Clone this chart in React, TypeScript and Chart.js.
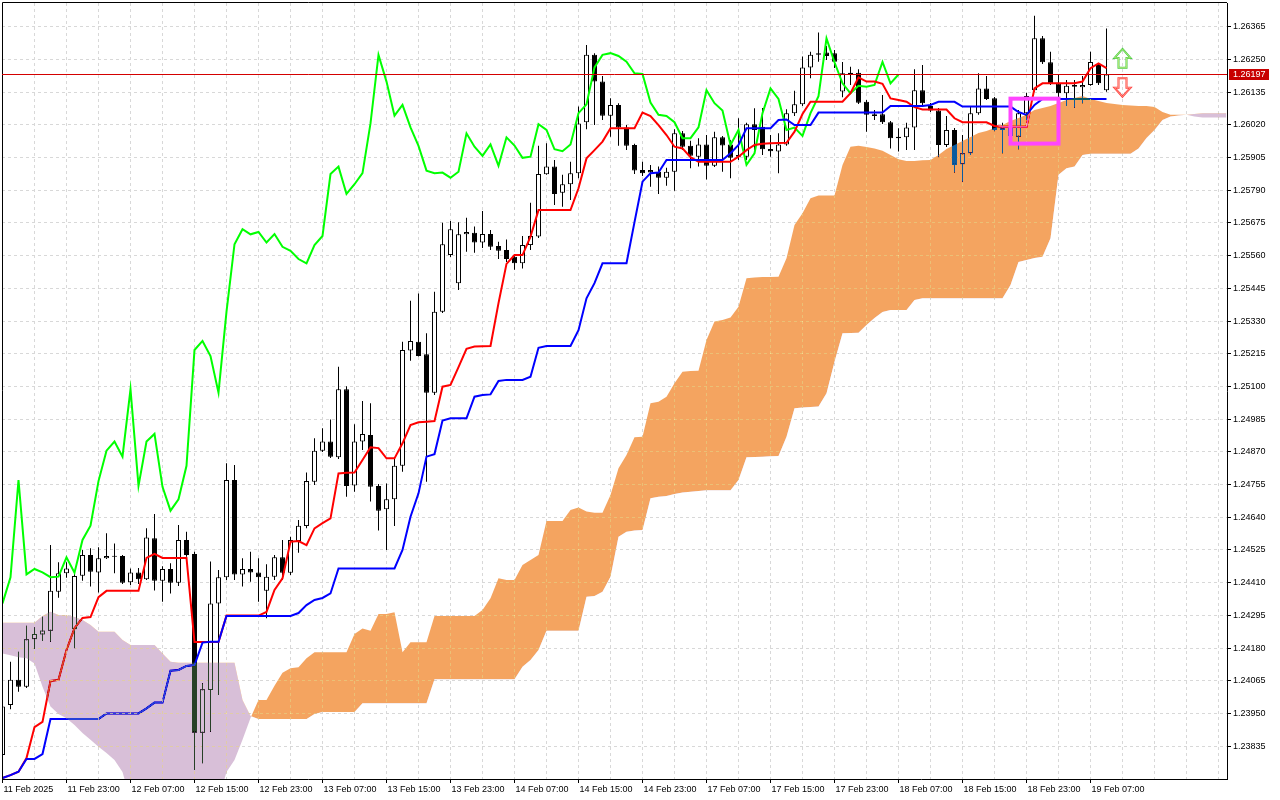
import React, { useEffect, useRef } from "react";
import { Chart, registerables } from "chart.js";

Chart.register(...registerables);

// ---------- data (H1 chart, Ichimoku) ----------
const xLabelBars = [0, 8, 16, 24, 32, 40, 48, 56, 64, 72, 80, 88, 96, 104, 112, 120, 128, 136];
const xLabels = [
  "11 Feb 2025", "11 Feb 23:00", "12 Feb 07:00", "12 Feb 15:00", "12 Feb 23:00", "13 Feb 07:00",
  "13 Feb 15:00", "13 Feb 23:00", "14 Feb 07:00", "14 Feb 15:00", "14 Feb 23:00", "17 Feb 07:00",
  "17 Feb 15:00", "17 Feb 23:00", "18 Feb 07:00", "18 Feb 15:00", "18 Feb 23:00", "19 Feb 07:00",
];
const xGridBars = [0, 4, 8, 12, 16, 20, 24, 28, 32, 36, 40, 44, 48, 52, 56, 60, 64, 68, 72, 76, 80, 84, 88, 92, 96, 100, 104, 108, 112, 116, 120, 124, 128, 132, 136, 140, 144, 148, 152];
const yTicks = [
  1.23835, 1.2395, 1.24065, 1.2418, 1.24295, 1.2441, 1.24525, 1.2464, 1.24755, 1.2487, 1.24985, 1.251,
  1.25215, 1.2533, 1.25445, 1.2556, 1.25675, 1.2579, 1.25905, 1.2602, 1.26135, 1.2625, 1.26365,
];

const openP = [
  1.23804, 1.2398, 1.24068, 1.24044, 1.24211, 1.24228, 1.24241, 1.24378, 1.24443, 1.24246,
  1.24434, 1.24507, 1.24446, 1.24496, 1.24504, 1.24504, 1.24411, 1.24446, 1.24422, 1.24566,
  1.24417, 1.24458, 1.2441, 1.2456, 1.24511, 1.23882, 1.24032, 1.24337, 1.24429, 1.24771,
  1.24439, 1.24458, 1.24446, 1.24381, 1.24431, 1.24499, 1.24445, 1.24556, 1.24609, 1.24765,
  1.24874, 1.24906, 1.24851, 1.2509, 1.24752, 1.24906, 1.24929, 1.2475, 1.24668, 1.24703,
  1.24821, 1.25226, 1.25257, 1.25213, 1.25078, 1.25363, 1.25562, 1.25463, 1.25635, 1.2564,
  1.25606, 1.25636, 1.25594, 1.2558, 1.25556, 1.25533, 1.25597, 1.25627, 1.25846, 1.25873,
  1.25781, 1.25811, 1.2585, 1.26029, 1.26266, 1.26172, 1.26052, 1.2609, 1.26011, 1.25949,
  1.25861, 1.25861, 1.25855, 1.25834, 1.25855, 1.2599, 1.25946, 1.25908, 1.25951, 1.25876,
  1.25976, 1.25951, 1.25914, 1.25908, 1.26022, 1.26013, 1.25935, 1.25926, 1.25951, 1.26061,
  1.26092, 1.26222, 1.26266, 1.26274, 1.26272, 1.26137, 1.26203, 1.26203, 1.26101, 1.26057,
  1.26057, 1.26029, 1.25978, 1.25976, 1.26011, 1.26142, 1.26086, 1.2607, 1.25949, 1.26002,
  1.25881, 1.2592, 1.26061, 1.26148, 1.26113, 1.26002, 1.26009, 1.25978, 1.26061, 1.26142,
  1.26324, 1.2624, 1.26166, 1.26131, 1.2616, 1.26152, 1.2616, 1.2623, 1.26142,
];
const highP = [
  1.23987, 1.24132, 1.24167, 1.24258, 1.24252, 1.2429, 1.24542, 1.24482, 1.24482, 1.2444,
  1.24525, 1.24531, 1.24534, 1.24584, 1.24548, 1.24507, 1.2446, 1.24461, 1.24601, 1.24651,
  1.24468, 1.24478, 1.24613, 1.24589, 1.24519, 1.24056, 1.24484, 1.24454, 1.2483, 1.24824,
  1.24496, 1.24519, 1.24496, 1.24475, 1.24507, 1.2456, 1.24571, 1.2463, 1.24797, 1.24918,
  1.24953, 1.24984, 1.25169, 1.25101, 1.24967, 1.25049, 1.25041, 1.24757, 1.24759, 1.24851,
  1.25257, 1.25401, 1.25427, 1.25287, 1.25433, 1.25676, 1.25682, 1.25677, 1.25693, 1.25662,
  1.25717, 1.2565, 1.25609, 1.25617, 1.25562, 1.25629, 1.25746, 1.25946, 1.25955, 1.25896,
  1.25844, 1.2589, 1.26084, 1.26301, 1.26272, 1.26192, 1.26113, 1.26096, 1.26019, 1.25953,
  1.2589, 1.25879, 1.25873, 1.25869, 1.26004, 1.25998, 1.25964, 1.25973, 1.25984, 1.25996,
  1.25981, 1.25967, 1.26043, 1.26027, 1.26078, 1.26079, 1.25984, 1.2599, 1.26075, 1.2614,
  1.2626, 1.26277, 1.26345, 1.26297, 1.26283, 1.26241, 1.26224, 1.26215, 1.26107, 1.26072,
  1.26125, 1.26033, 1.26008, 1.26027, 1.26215, 1.2623, 1.26097, 1.26079, 1.26051, 1.26009,
  1.25984, 1.26084, 1.26201, 1.26192, 1.26118, 1.26027, 1.26023, 1.26072, 1.26133, 1.26404,
  1.26332, 1.26277, 1.26195, 1.26178, 1.26178, 1.26192, 1.26277, 1.26236, 1.26359,
];
const lowP = [
  1.23797, 1.23965, 1.24026, 1.24039, 1.24177, 1.24205, 1.24202, 1.24357, 1.24427, 1.2418,
  1.24417, 1.24396, 1.24375, 1.24493, 1.24443, 1.24405, 1.24402, 1.24405, 1.24419, 1.24382,
  1.24343, 1.24372, 1.24398, 1.24501, 1.23751, 1.23775, 1.23886, 1.24015, 1.24419, 1.24419,
  1.24396, 1.24413, 1.24343, 1.24285, 1.24419, 1.24419, 1.24437, 1.24515, 1.24601, 1.24753,
  1.24869, 1.24848, 1.24845, 1.24712, 1.2473, 1.24876, 1.24695, 1.24593, 1.24525, 1.24609,
  1.248, 1.2519, 1.25205, 1.24765, 1.2507, 1.25358, 1.25555, 1.25439, 1.25574, 1.2557,
  1.25587, 1.2558, 1.25548, 1.25538, 1.2551, 1.25515, 1.2558, 1.25622, 1.25844, 1.25738,
  1.25732, 1.25756, 1.25832, 1.26004, 1.26019, 1.26037, 1.25978, 1.25946, 1.25931, 1.25847,
  1.2584, 1.25802, 1.25777, 1.25806, 1.25788, 1.25931, 1.25867, 1.25873, 1.25828, 1.25872,
  1.25855, 1.25832, 1.25896, 1.25896, 1.25931, 1.25914, 1.25908, 1.2585, 1.25946, 1.26051,
  1.26086, 1.26184, 1.26242, 1.26248, 1.2622, 1.26117, 1.2616, 1.26093, 1.25996, 1.26037,
  1.26023, 1.25937, 1.25926, 1.25931, 1.25931, 1.2609, 1.26065, 1.25908, 1.25942, 1.25852,
  1.2582, 1.25914, 1.26055, 1.26107, 1.25998, 1.2592, 1.2596, 1.25934, 1.26037, 1.26136,
  1.26234, 1.2616, 1.26114, 1.26086, 1.2608, 1.26096, 1.26157, 1.2616, 1.26136,
];
const closeP = [
  1.23974, 1.24068, 1.24044, 1.24211, 1.24229, 1.24242, 1.24381, 1.24443, 1.2446, 1.24433,
  1.24507, 1.24448, 1.24496, 1.24504, 1.24501, 1.2441, 1.24446, 1.24422, 1.24569, 1.24417,
  1.24458, 1.2441, 1.2456, 1.24507, 1.23882, 1.24035, 1.24337, 1.24429, 1.24771, 1.24439,
  1.24458, 1.24446, 1.24429, 1.24431, 1.24499, 1.24445, 1.2456, 1.2461, 1.24767, 1.24874,
  1.24906, 1.24853, 1.2509, 1.2475, 1.24906, 1.24933, 1.24747, 1.24663, 1.24703, 1.24821,
  1.25228, 1.2526, 1.25207, 1.25078, 1.25363, 1.256, 1.25653, 1.25635, 1.25643, 1.25606,
  1.25636, 1.25591, 1.25577, 1.25548, 1.25533, 1.25597, 1.25629, 1.25847, 1.25873, 1.25777,
  1.25811, 1.2585, 1.26025, 1.26266, 1.26172, 1.26052, 1.2609, 1.26011, 1.25946, 1.25859,
  1.2585, 1.25852, 1.25834, 1.25855, 1.2599, 1.25943, 1.25911, 1.25951, 1.25876, 1.25976,
  1.25947, 1.25904, 1.25908, 1.26022, 1.26002, 1.25934, 1.25927, 1.25951, 1.26061, 1.26092,
  1.26222, 1.26266, 1.26272, 1.26262, 1.26242, 1.26201, 1.26199, 1.26098, 1.26055, 1.26051,
  1.26029, 1.25973, 1.25973, 1.26011, 1.26142, 1.26096, 1.2607, 1.25949, 1.26002, 1.25879,
  1.2592, 1.26061, 1.26148, 1.26111, 1.26002, 1.2601, 1.25981, 1.26061, 1.26121, 1.26324,
  1.2624, 1.26166, 1.26131, 1.26157, 1.26154, 1.2616, 1.26241, 1.26166, 1.26197,
];

const tenkan = [
  1.23723, 1.23733, 1.23745, 1.23793, 1.23902, 1.2392, 1.24064, 1.24068, 1.24173, 1.2425,
  1.24286, 1.24289, 1.24359, 1.24381, 1.24381, 1.24381, 1.24381, 1.24381, 1.24497, 1.24511,
  1.24497, 1.24497, 1.24497, 1.24497, 1.24201, 1.24201, 1.24201, 1.24201, 1.24294, 1.24294,
  1.24294, 1.24294, 1.24294, 1.24307, 1.24384, 1.24425, 1.24554, 1.24556, 1.24542, 1.24601,
  1.24619, 1.24636, 1.24794, 1.24796, 1.24797, 1.24841, 1.24886, 1.24883, 1.24847, 1.24847,
  1.249, 1.24964, 1.24974, 1.24976, 1.24978, 1.25099, 1.25105, 1.25168, 1.25232, 1.2524,
  1.25241, 1.25242, 1.25393, 1.25531, 1.25562, 1.25562, 1.25627, 1.2572, 1.2572, 1.2572,
  1.2572, 1.2572, 1.25797, 1.25902, 1.25931, 1.25961, 1.26008, 1.26008, 1.26008, 1.26008,
  1.26063, 1.26051, 1.26019, 1.25984, 1.25943, 1.25937, 1.25906, 1.2589, 1.2589, 1.2589,
  1.2589, 1.2589, 1.25908, 1.25931, 1.25949, 1.25953, 1.25955, 1.25956, 1.25957, 1.25996,
  1.26058, 1.26101, 1.26101, 1.26101, 1.26101, 1.26101, 1.26131, 1.26187, 1.26172, 1.26172,
  1.26164, 1.26113, 1.26107, 1.26101, 1.26082, 1.26074, 1.26074, 1.26074, 1.26074, 1.26043,
  1.26029, 1.26029, 1.26029, 1.26029, 1.26016, 1.26013, 1.26013, 1.26013, 1.26013, 1.26148,
  1.26166, 1.26166, 1.26166, 1.26166, 1.26166, 1.26172, 1.26219, 1.26236, 1.26219,
];
const kijun = [
  1.23723, 1.23733, 1.23745, 1.2379, 1.2379, 1.23807, 1.2393, 1.2393, 1.2393, 1.2393,
  1.2393, 1.2393, 1.2393, 1.2395, 1.2395, 1.2395, 1.2395, 1.2395, 1.23968, 1.23988,
  1.23988, 1.241, 1.24103, 1.24117, 1.2412, 1.24199, 1.24202, 1.24202, 1.24293, 1.24293,
  1.24293, 1.24293, 1.24293, 1.24293, 1.24293, 1.24293, 1.24293, 1.24303, 1.24331, 1.24349,
  1.24356, 1.24372, 1.2446, 1.2446, 1.2446, 1.2446, 1.2446, 1.2446, 1.2446, 1.2446,
  1.24525, 1.24642, 1.24724, 1.24853, 1.24862, 1.2498, 1.24988, 1.24988, 1.24988, 1.25064,
  1.2507, 1.25072, 1.25119, 1.25123, 1.25123, 1.25123, 1.25134, 1.25236, 1.25242, 1.25242,
  1.25242, 1.25242, 1.25298, 1.2541, 1.25463, 1.25533, 1.25533, 1.25533, 1.25533, 1.25678,
  1.2582, 1.2585, 1.25852, 1.25896, 1.25896, 1.25896, 1.25896, 1.25896, 1.25896, 1.25896,
  1.25896, 1.2592, 1.25949, 1.26008, 1.26008, 1.26008, 1.26008, 1.26037, 1.26039, 1.26019,
  1.26019, 1.26019, 1.26063, 1.26063, 1.26063, 1.26063, 1.26063, 1.26063, 1.26063, 1.26063,
  1.26063, 1.26086, 1.26086, 1.26086, 1.26086, 1.26086, 1.2609, 1.26101, 1.26101, 1.26101,
  1.26084, 1.26084, 1.26084, 1.26084, 1.26084, 1.26084, 1.26084, 1.26065, 1.26055, 1.2609,
  1.26111, 1.26111, 1.26111, 1.26111, 1.26111, 1.26111, 1.26111, 1.26111, 1.26111,
];
// Chikou span: closes drawn 26 bars back (bars 0..112)
const chikou = [
  1.24337, 1.24429, 1.24771, 1.24439, 1.24458, 1.24446, 1.24429, 1.24431, 1.24499, 1.24445,
  1.2456, 1.2461, 1.24767, 1.24874, 1.24906, 1.24853, 1.2509, 1.2475, 1.24906, 1.24933,
  1.24747, 1.24663, 1.24703, 1.24821, 1.25228, 1.2526, 1.25207, 1.25078, 1.25363, 1.256,
  1.25653, 1.25635, 1.25643, 1.25606, 1.25636, 1.25591, 1.25577, 1.25548, 1.25533, 1.25597,
  1.25629, 1.25847, 1.25873, 1.25777, 1.25811, 1.2585, 1.26025, 1.26266, 1.26172, 1.26052,
  1.2609, 1.26011, 1.25946, 1.25859, 1.2585, 1.25852, 1.25834, 1.25855, 1.2599, 1.25943,
  1.25911, 1.25951, 1.25876, 1.25976, 1.25947, 1.25904, 1.25908, 1.26022, 1.26002, 1.25934,
  1.25927, 1.25951, 1.26061, 1.26092, 1.26222, 1.26266, 1.26272, 1.26262, 1.26242, 1.26201,
  1.26199, 1.26098, 1.26055, 1.26051, 1.26029, 1.25973, 1.25973, 1.26011, 1.26142, 1.26096,
  1.2607, 1.25949, 1.26002, 1.25879, 1.2592, 1.26061, 1.26148, 1.26111, 1.26002, 1.2601,
  1.25981, 1.26061, 1.26121, 1.26324, 1.2624, 1.26166, 1.26131, 1.26157, 1.26154, 1.2616,
  1.26241, 1.26166, 1.26197,
];
const senkouA = [
  1.24161, 1.24155, 1.24148, 1.24144, 1.24126, 1.24044, 1.23974, 1.23948, 1.23933, 1.23909,
  1.23881, 1.23857, 1.23833, 1.23811, 1.23786, 1.23744, 1.23646, 1.23646, 1.23646, 1.23646,
  1.23646, 1.23646, 1.23646, 1.23646, 1.23646, 1.23646, 1.23646, 1.23646, 1.23744, 1.23786,
  1.23857, 1.23934, 1.23997, 1.23997, 1.24047, 1.24093, 1.24109, 1.24112, 1.24144, 1.24165,
  1.24165, 1.24165, 1.24165, 1.24165, 1.24229, 1.24249, 1.24241, 1.243, 1.243, 1.24306,
  1.24165, 1.242, 1.242, 1.242, 1.24293, 1.24293, 1.24293, 1.24293, 1.24293, 1.24293,
  1.24314, 1.24355, 1.24425, 1.24419, 1.24419, 1.24472, 1.2449, 1.24507, 1.24627, 1.24627,
  1.24627, 1.24665, 1.24674, 1.2466, 1.24656, 1.24656, 1.24718, 1.24812, 1.24859, 1.24921,
  1.24923, 1.25041, 1.25046, 1.25064, 1.25111, 1.25152, 1.25154, 1.25155, 1.25263, 1.25328,
  1.25334, 1.25342, 1.2538, 1.2548, 1.25483, 1.25485, 1.25485, 1.25486, 1.25551, 1.25668,
  1.25709, 1.25762, 1.25771, 1.25771, 1.25771, 1.25879, 1.25943, 1.25946, 1.25942, 1.25937,
  1.25929, 1.25914, 1.25899, 1.25893, 1.25893, 1.25895, 1.25896, 1.25914, 1.25935, 1.25949,
  1.25963, 1.25977, 1.25991, 1.25998, 1.26009, 1.26019, 1.26033, 1.26044, 1.26055, 1.26072,
  1.26079, 1.26086, 1.26097, 1.26107, 1.26114, 1.26121, 1.26111, 1.26104, 1.26097, 1.26093,
  1.2609, 1.26088, 1.26086, 1.26086, 1.26083, 1.26065, 1.26055, 1.26055, 1.26055, 1.26049,
  1.26046, 1.26046, 1.26046, 1.26046,
];
const senkouB = [
  1.24269, 1.24269, 1.24269, 1.24269, 1.24269, 1.24293, 1.24308, 1.24296, 1.24294, 1.24289,
  1.24279, 1.24261, 1.24237, 1.24237, 1.24237, 1.24208, 1.24191, 1.24191, 1.24191, 1.24191,
  1.24161, 1.24132, 1.24128, 1.24128, 1.24128, 1.24128, 1.24128, 1.24128, 1.24128, 1.24128,
  1.23997, 1.23941, 1.2393, 1.2393, 1.2393, 1.2393, 1.2393, 1.2393, 1.2393, 1.23948,
  1.23955, 1.23955, 1.23955, 1.23955, 1.23955, 1.23986, 1.23986, 1.23986, 1.23986, 1.23986,
  1.23986, 1.23986, 1.23986, 1.23986, 1.2407, 1.2407, 1.2407, 1.2407, 1.2407, 1.2407,
  1.2407, 1.2407, 1.2407, 1.2407, 1.2407, 1.24114, 1.24138, 1.24173, 1.24241, 1.24241,
  1.24241, 1.24241, 1.24241, 1.2436, 1.24363, 1.24378, 1.24431, 1.24571, 1.24589, 1.24593,
  1.24595, 1.24707, 1.24712, 1.24715, 1.24722, 1.24727, 1.2473, 1.24732, 1.24735, 1.24735,
  1.24735, 1.24735, 1.24771, 1.24851, 1.24852, 1.24853, 1.24854, 1.24855, 1.24923, 1.25023,
  1.25026, 1.25028, 1.25029, 1.25076, 1.25187, 1.25287, 1.25288, 1.25289, 1.25316, 1.25341,
  1.25362, 1.25369, 1.25369, 1.25369, 1.25404, 1.2541, 1.2541, 1.2541, 1.2541, 1.2541,
  1.2541, 1.2541, 1.2541, 1.2541, 1.2541, 1.2541, 1.25457, 1.25538, 1.25545, 1.25552,
  1.25556, 1.25621, 1.25844, 1.25867, 1.25873, 1.25914, 1.25918, 1.25918, 1.25918, 1.25918,
  1.25918, 1.25918, 1.25937, 1.25974, 1.26002, 1.26037, 1.26049, 1.26053, 1.26055, 1.26058,
  1.26061, 1.26061, 1.26061, 1.26061,
];

const currentPrice = 1.26197;
const boxBars = [126, 132];
const boxPrices = [1.26112, 1.25954];
const arrowBar = 140;
const upArrowPrices = [1.26287, 1.26221]; // tip, tail
const downArrowPrices = [1.26119, 1.26184]; // tip, tail

const Y_MIN = 1.237194;
const Y_MAX = 1.264484;
const X_MIN = -0.0625;
const X_MAX = 153.0625;

const FONT = { family: "'Liberation Sans', Arial, sans-serif", size: 9 };
const GRID = "#d8d8d8";
const WICK_IDX = 0;
const BODY_IDX = 1;
const A_IDX = 5;
const B_IDX = 6;

const pts = (arr: number[]) => arr.map((v, i) => ({ x: i, y: v }));

function drawArrow(ctx: CanvasRenderingContext2D, x: number, yTip: number, yTail: number, outer: string, inner: string) {
  const dir = yTail > yTip ? 1 : -1;
  const head = 9 * dir;
  const hw = 8;
  const sw = 4;
  const path = () => {
    ctx.beginPath();
    ctx.moveTo(x, yTip);
    ctx.lineTo(x + hw, yTip + head);
    ctx.lineTo(x + sw, yTip + head);
    ctx.lineTo(x + sw, yTail);
    ctx.lineTo(x - sw, yTail);
    ctx.lineTo(x - sw, yTip + head);
    ctx.lineTo(x - hw, yTip + head);
    ctx.closePath();
  };
  ctx.save();
  path();
  ctx.lineWidth = 2;
  ctx.strokeStyle = outer;
  ctx.stroke();
  path();
  ctx.lineWidth = 0.7;
  ctx.strokeStyle = inner;
  ctx.stroke();
  ctx.restore();
}

const align = (p: number) => Math.round(p - 0.5) + 0.5;

// clip that removes the candle rectangles of one bar dataset
function clipOutBars(ctx: CanvasRenderingContext2D, chart: any, idx: number, area: any) {
  ctx.beginPath();
  ctx.rect(area.left, area.top, area.right - area.left, area.bottom - area.top);
  for (const el of chart.getDatasetMeta(idx).data as any[]) {
    const p = el.getProps(["x", "y", "base", "width"], true);
    const top = Math.min(p.y, p.base);
    const h = Math.max(Math.abs(p.base - p.y), 1);
    ctx.rect(p.x - p.width / 2 - 0.5, top - 1, p.width + 1, h + 2);
  }
  ctx.clip("evenodd");
}

const mt4Plugin = {
  id: "mt4look",
  beforeDraw(chart: any) {
    const { ctx, width, height } = chart;
    ctx.save();
    ctx.fillStyle = "#ffffff";
    ctx.fillRect(0, 0, width, height);
    ctx.restore();
  },
  beforeDatasetDraw(chart: any, args: any) {
    // the cloud is painted inverted over what lies beneath (MT4 XOR-like histogram)
    if (args.index === B_IDX) chart.ctx.globalCompositeOperation = "difference";
  },
  afterDatasetDraw(chart: any, args: any) {
    if (args.index !== A_IDX) return;
    const ctx = chart.ctx;
    ctx.globalCompositeOperation = "source-over";
    // light grid dashes visible on top of the cloud (not over candles)
    const a = chart.getDatasetMeta(A_IDX).data;
    const b = chart.getDatasetMeta(B_IDX).data;
    const area = chart.chartArea;
    ctx.save();
    clipOutBars(ctx, chart, WICK_IDX, area);
    clipOutBars(ctx, chart, BODY_IDX, area);
    ctx.beginPath();
    ctx.moveTo(a[0].x, a[0].y);
    for (let i = 1; i < a.length; i++) ctx.lineTo(a[i].x, a[i].y);
    for (let i = b.length - 1; i >= 0; i--) ctx.lineTo(b[i].x, b[i].y);
    ctx.closePath();
    ctx.clip();
    ctx.strokeStyle = "rgba(255,236,160,0.6)";
    ctx.lineWidth = 1;
    ctx.setLineDash([3, 3]);
    const xs = chart.scales.x;
    const ys = chart.scales.y;
    for (const v of xGridBars) {
      const px = align(xs.getPixelForValue(v));
      ctx.beginPath();
      ctx.moveTo(px, area.top);
      ctx.lineTo(px, area.bottom);
      ctx.stroke();
    }
    for (const v of yTicks) {
      const py = align(ys.getPixelForValue(v));
      ctx.beginPath();
      ctx.moveTo(area.left, py);
      ctx.lineTo(area.right, py);
      ctx.stroke();
    }
    ctx.restore();
  },
  afterDraw(chart: any) {
    const { ctx, chartArea } = chart;
    const xs = chart.scales.x;
    const ys = chart.scales.y;
    ctx.save();
    ctx.globalCompositeOperation = "source-over";
    // frame top/left
    ctx.strokeStyle = "#000";
    ctx.lineWidth = 1;
    ctx.beginPath();
    ctx.moveTo(chartArea.left + 0.5, chartArea.bottom);
    ctx.lineTo(chartArea.left + 0.5, chartArea.top - 0.5);
    ctx.lineTo(chartArea.right, chartArea.top - 0.5);
    ctx.stroke();

    // current price line + label
    const py = Math.round(ys.getPixelForValue(currentPrice)) + 0.5;
    ctx.strokeStyle = "#d40000";
    ctx.beginPath();
    ctx.moveTo(chartArea.left, py);
    ctx.lineTo(chartArea.right, py);
    ctx.stroke();
    ctx.fillStyle = "#c80000";
    ctx.fillRect(chartArea.right + 2, py - 5.5, 40, 11);
    ctx.fillStyle = "#ffffff";
    ctx.font = `${FONT.size}px ${FONT.family}`;
    ctx.textBaseline = "middle";
    ctx.textAlign = "left";
    ctx.fillText(currentPrice.toFixed(5), chartArea.right + 6, py + 0.5);

    // magenta rectangle
    const rx1 = xs.getPixelForValue(boxBars[0]);
    const rx2 = xs.getPixelForValue(boxBars[1]);
    const ry1 = ys.getPixelForValue(boxPrices[0]);
    const ry2 = ys.getPixelForValue(boxPrices[1]);
    ctx.strokeStyle = "#ff45ff";
    ctx.lineWidth = 4;
    ctx.strokeRect(rx1, ry1, rx2 - rx1, ry2 - ry1);

    // arrows
    const ax = xs.getPixelForValue(arrowBar);
    drawArrow(ctx, ax, ys.getPixelForValue(upArrowPrices[0]), ys.getPixelForValue(upArrowPrices[1]), "#44cc44", "#d8f088");
    drawArrow(ctx, ax, ys.getPixelForValue(downArrowPrices[0]), ys.getPixelForValue(downArrowPrices[1]), "#ff3a3a", "#ffb4a0");
    ctx.restore();
  },
};

export default function App() {
  const ref = useRef<HTMLCanvasElement | null>(null);

  useEffect(() => {
    document.body.style.margin = "0";
    const canvas = ref.current;
    if (!canvas) return;

    const wickData = highP.map((h, i) => ({ x: i, y: [lowP[i], h] }));
    const bodyData = openP.map((o, i) => ({ x: i, y: [o, closeP[i]] }));
    const bodyColors = openP.map((o, i) => (closeP[i] >= o ? "#ffffff" : "#000000"));

    const chart = new Chart(canvas, {
      type: "bar",
      data: {
        datasets: [
          {
            type: "bar",
            label: "wick",
            data: wickData as any,
            backgroundColor: "#000000",
            borderWidth: 0,
            barThickness: 1,
            grouped: false,
            inflateAmount: 0,
            order: 5,
          } as any,
          {
            type: "bar",
            label: "body",
            data: bodyData as any,
            backgroundColor: bodyColors,
            borderColor: "#000000",
            borderWidth: 1,
            borderSkipped: false,
            barThickness: 5,
            minBarLength: 1,
            grouped: false,
            inflateAmount: 0,
            order: 4,
          } as any,
          {
            type: "line",
            label: "Chikou Span",
            data: pts(chikou),
            borderColor: "#00ff00",
            borderWidth: 2,
            pointRadius: 0,
            tension: 0,
            fill: false,
            order: 3,
          },
          {
            type: "line",
            label: "Tenkan-sen",
            data: pts(tenkan),
            borderColor: "#ff0000",
            borderWidth: 2,
            pointRadius: 0,
            tension: 0,
            fill: false,
            order: 2,
          },
          {
            type: "line",
            label: "Kijun-sen",
            data: pts(kijun),
            borderColor: "#0000ff",
            borderWidth: 2,
            pointRadius: 0,
            tension: 0,
            fill: false,
            order: 1,
          },
          {
            type: "line",
            label: "Senkou Span A",
            data: pts(senkouA),
            borderColor: "rgba(0,0,0,0)",
            borderWidth: 0,
            pointRadius: 0,
            tension: 0,
            fill: { target: "+1", above: "#0b5b9f", below: "#274027" },
            order: 0,
          } as any,
          {
            type: "line",
            label: "Senkou Span B",
            data: pts(senkouB),
            borderColor: "rgba(0,0,0,0)",
            borderWidth: 0,
            pointRadius: 0,
            tension: 0,
            fill: false,
            order: 0,
          },
        ],
      },
      options: {
        responsive: false,
        animation: false,
        events: [],
        layout: { padding: { left: 2, top: 3, right: 0, bottom: 0 } },
        plugins: {
          legend: { display: false },
          tooltip: { enabled: false },
        },
        scales: {
          x: {
            type: "linear",
            min: X_MIN,
            max: X_MAX,
            offset: false,
            bounds: "data",
            afterBuildTicks: (s: any) => {
              s.ticks = xGridBars.map((v) => ({ value: v }));
            },
            afterFit: (s: any) => {
              s.height = 21;
              s.paddingLeft = 0;
              s.paddingRight = 0;
            },
            ticks: {
              autoSkip: false,
              maxRotation: 0,
              minRotation: 0,
              align: "start",
              labelOffset: 1,
              padding: 1,
              color: "#000000",
              font: FONT,
              callback: (v: any) => {
                const k = xLabelBars.indexOf(Number(v));
                return k >= 0 ? xLabels[k] : "";
              },
            },
            grid: {
              offset: false,
              color: GRID,
              lineWidth: 1,
              tickLength: 4,
              tickColor: (c: any) =>
                c.tick && xLabelBars.indexOf(c.tick.value) >= 0 ? "#000000" : "rgba(0,0,0,0)",
            },
            border: { display: true, color: "#000000", width: 1, dash: [3, 3] },
          } as any,
          y: {
            type: "linear",
            position: "right",
            min: Y_MIN,
            max: Y_MAX,
            bounds: "data",
            afterBuildTicks: (s: any) => {
              s.ticks = yTicks.map((v) => ({ value: v }));
            },
            afterFit: (s: any) => {
              s.width = 53;
              s.paddingTop = 0;
              s.paddingBottom = 0;
            },
            ticks: {
              autoSkip: false,
              padding: 2,
              color: "#000000",
              font: FONT,
              callback: (v: any) => Number(v).toFixed(5),
            },
            grid: { color: GRID, lineWidth: 1, tickLength: 4, tickColor: "#000000" },
            border: { display: true, color: "#000000", width: 1, dash: [3, 3] },
          } as any,
        },
      },
      plugins: [mt4Plugin as any],
    });

    return () => chart.destroy();
  }, []);

  return (
    <div style={{ width: 1280, height: 800, background: "#ffffff", overflow: "hidden" }}>
      <canvas ref={ref} width={1280} height={800} style={{ display: "block", width: 1280, height: 800 }} />
    </div>
  );
}
